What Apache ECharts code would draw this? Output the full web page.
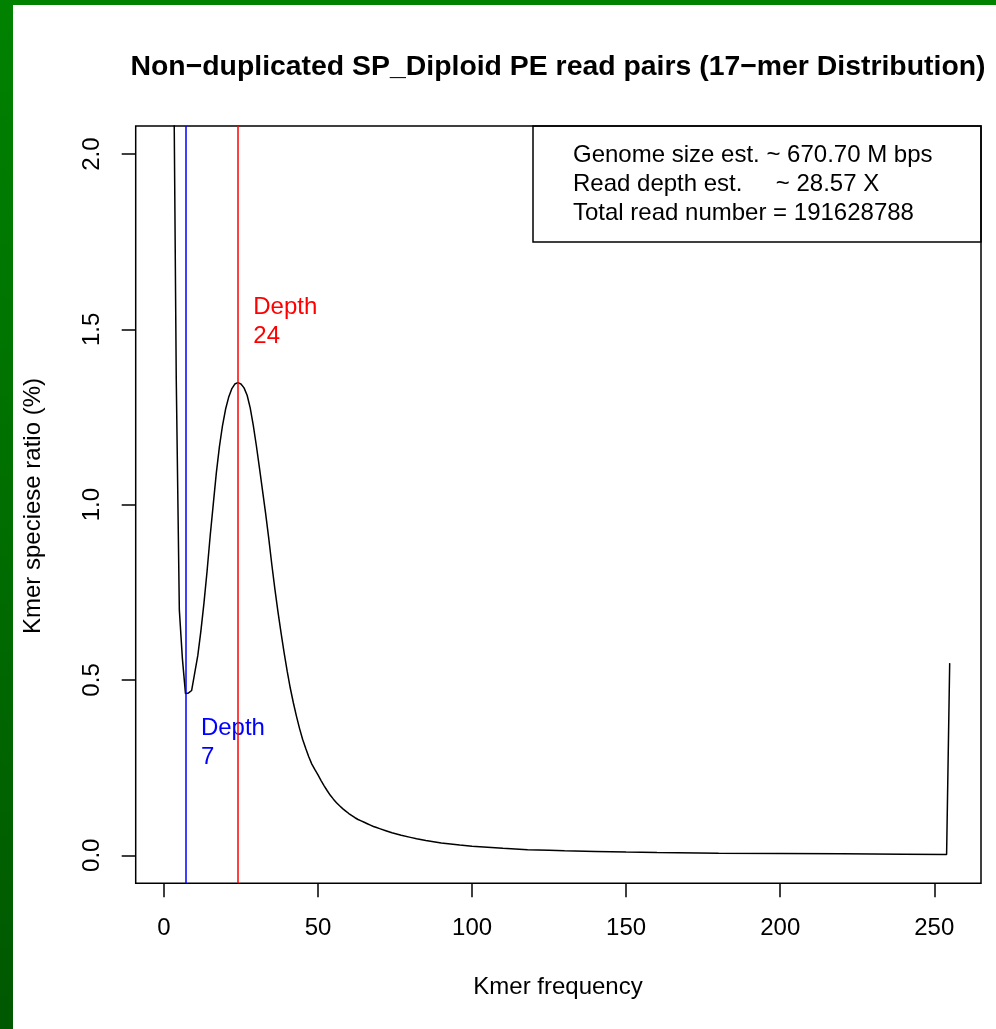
<!DOCTYPE html>
<html>
<head>
<meta charset="utf-8">
<title>17-mer Distribution</title>
<script src="https://cdn.jsdelivr.net/npm/echarts@6.0.0/dist/echarts.min.js"></script>
<style>
  html, body { margin: 0; padding: 0; }
  body { width: 996px; height: 1029px; overflow: hidden;
         background: linear-gradient(180deg, #008200 0%, #006a00 60%, #005800 100%); }
  #paper { position: absolute; left: 13px; top: 5px; width: 983px; height: 1024px; background: #fff; }
  #main { position: absolute; left: 0; top: 0; width: 996px; height: 1029px; }
</style>
</head>
<body>
<div id="paper"></div>
<div id="main"></div>
<script>
// kmer frequency (x) and kmer species ratio in % (y)
const kmerFreq = [
  1, 2, 3, 4, 5, 6, 7, 8, 9, 10,
  11, 12, 13, 14, 15, 16, 17, 18, 19, 20,
  21, 22, 23, 24, 25, 26, 27, 28, 29, 30,
  31, 32, 33, 34, 35, 36, 37, 38, 39, 40,
  41, 42, 43, 44, 45, 46, 47, 48, 49, 50,
  51, 52, 53, 54, 55, 56, 57, 58, 59, 60,
  61, 62, 63, 64, 65, 66, 67, 68, 69, 70,
  72, 74, 77, 80, 82, 85, 88, 90, 93, 96,
  100, 105, 110, 118, 125, 130, 140, 150, 160, 180,
  200, 220, 240, 254, 255
]
const kmerRatio = [
  18.5, 5.6, 2.46, 1.36, 0.70, 0.56, 0.461, 0.463, 0.47, 0.52,
  0.57, 0.64, 0.72, 0.81, 0.91, 1.00, 1.09, 1.165, 1.225, 1.272,
  1.306, 1.33, 1.344, 1.348, 1.344, 1.333, 1.312, 1.276, 1.226, 1.168,
  1.105, 1.04, 0.975, 0.905, 0.83, 0.76, 0.695, 0.635, 0.578, 0.525,
  0.477, 0.435, 0.397, 0.362, 0.331, 0.305, 0.281, 0.26, 0.244, 0.229,
  0.213, 0.198, 0.184, 0.171, 0.16, 0.15, 0.141, 0.133, 0.126, 0.119,
  0.113, 0.107, 0.102, 0.098, 0.094, 0.09, 0.086, 0.082, 0.079, 0.076,
  0.07, 0.064, 0.057, 0.051, 0.047, 0.042, 0.038, 0.035, 0.032, 0.029,
  0.026, 0.023, 0.020, 0.016, 0.0145, 0.013, 0.011, 0.009, 0.0078, 0.006,
  0.005, 0.004, 0.003, 0.002, 0.548
]
const xTicks = [0, 50, 100, 150, 200, 250]
const yTicks = [0, 0.5, 1.0, 1.5, 2.0]
const peakDepth = 24
const valleyDepth = 7
const infoLines = [
  'Genome size est. ~ 670.70 M bps',
  'Read depth est.     ~ 28.57 X',
  'Total read number = 191628788'
]

const FONT = "'Liberation Sans', Arial, Helvetica, sans-serif"
const chart = echarts.init(document.getElementById('main'), null, {renderer: 'canvas'})

const seriesData = kmerFreq.map((x, i) => [x, kmerRatio[i]])

chart.setOption({
  animation: false,
  backgroundColor: 'transparent',
  grid: {
    left: 135.7, right: 15, top: 126, bottom: 145.7,
    show: true, borderColor: '#000', borderWidth: 1.5,
    backgroundColor: 'transparent'
  },
  xAxis: {
    type: 'value',
    min: -9.16, max: 265.16,
    axisLine: {show: false, onZero: false},
    splitLine: {show: false},
    axisTick: {show: true, inside: false, customValues: xTicks, length: 14, lineStyle: {color: '#000', width: 1.5}},
    axisLabel: {customValues: xTicks, margin: 33, fontSize: 24, color: '#000', fontFamily: FONT}
  },
  yAxis: {
    type: 'value',
    min: -0.08, max: 2.08,
    axisLine: {show: false, onZero: false},
    splitLine: {show: false},
    axisTick: {show: true, inside: false, customValues: yTicks, length: 14, lineStyle: {color: '#000', width: 1.5}},
    axisLabel: {
      customValues: yTicks, margin: 31, fontSize: 24, color: '#000', fontFamily: FONT,
      rotate: 90, formatter: v => v.toFixed(1)
    }
  },
  series: [{
    type: 'line',
    data: seriesData,
    showSymbol: false,
    clip: true,
    lineStyle: {color: '#000', width: 1.5},
    markLine: {
      silent: true,
      symbol: ['none', 'none'],
      label: {show: false},
      animation: false,
      data: [
        {xAxis: valleyDepth, lineStyle: {color: '#0000FF', width: 1.5, type: 'solid'}},
        {xAxis: peakDepth, lineStyle: {color: '#FF0000', width: 1.5, type: 'solid'}}
      ]
    }
  }]
})

// annotation positions in data space
const redPos = chart.convertToPixel({gridIndex: 0}, [peakDepth + 5, 1.52])
const bluePos = chart.convertToPixel({gridIndex: 0}, [valleyDepth + 5, 0.32])

const graphics = [
  {
    type: 'text', x: 558, y: 67,
    style: {text: 'Non\u2212duplicated SP_Diploid PE read pairs (17\u2212mer Distribution)',
      fontSize: 28.4, fontWeight: 'bold', fontFamily: FONT, fill: '#000',
      textAlign: 'center', textVerticalAlign: 'middle'}
  },
  {
    type: 'text', x: 558, y: 987,
    style: {text: 'Kmer frequency', fontSize: 24, fontFamily: FONT, fill: '#000',
      textAlign: 'center', textVerticalAlign: 'middle'}
  },
  {
    type: 'text', x: 33, y: 506, rotation: Math.PI / 2,
    style: {text: 'Kmer speciese ratio (%)', fontSize: 24, fontFamily: FONT, fill: '#000',
      textAlign: 'center', textVerticalAlign: 'middle'}
  },
  {
    type: 'rect',
    shape: {x: 533, y: 126, width: 448, height: 116},
    style: {fill: 'none', stroke: '#000', lineWidth: 1.5}
  },
  {
    type: 'text', x: redPos[0], y: redPos[1],
    style: {text: 'Depth\n' + peakDepth, fontSize: 24, lineHeight: 29, fontFamily: FONT, fill: '#FF0000',
      textAlign: 'left', textVerticalAlign: 'middle'}
  },
  {
    type: 'text', x: bluePos[0], y: bluePos[1],
    style: {text: 'Depth\n' + valleyDepth, fontSize: 24, lineHeight: 29, fontFamily: FONT, fill: '#0000FF',
      textAlign: 'left', textVerticalAlign: 'middle'}
  }
]
infoLines.forEach((t, i) => {
  graphics.push({
    type: 'text', x: 573, y: 155 + i * 29,
    style: {text: t, fontSize: 24, fontFamily: FONT, fill: '#000',
      textAlign: 'left', textVerticalAlign: 'middle'}
  })
})
chart.setOption({graphic: graphics})
</script>
</body>
</html>
